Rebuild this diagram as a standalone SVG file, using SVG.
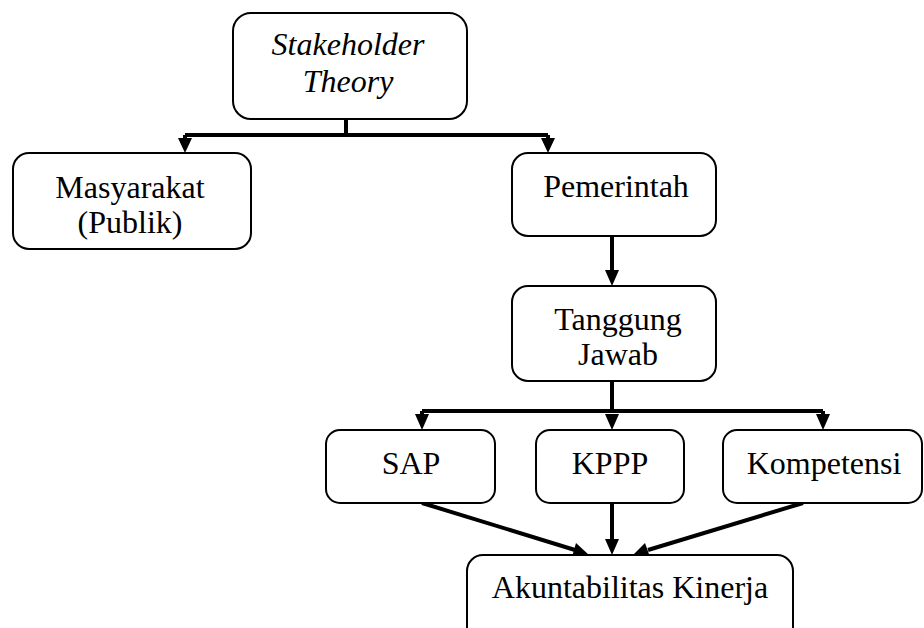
<svg xmlns="http://www.w3.org/2000/svg" width="924" height="628" viewBox="0 0 924 628">
<style>
.box{fill:#fff;stroke:#000;stroke-width:2}
.c{fill:none;stroke:#000;stroke-width:4}
.h{fill:#000;stroke:none}
.t{font-family:"Liberation Serif","Times New Roman",serif;font-size:32px;text-anchor:middle;fill:#000}
.i{font-style:italic}
</style>
<rect width="924" height="628" fill="#fff"/>
<g id="connectors">
<path class="c" d="M346,119 V135"/>
<path class="c" d="M185,135 H548"/>
<path class="c" d="M185,135 V140"/>
<path class="c" d="M548,135 V140"/>
<polygon class="h" points="178,138 192,138 185,153"/>
<polygon class="h" points="541,138 555,138 548,153"/>
<path class="c" d="M612,236 V272"/>
<polygon class="h" points="605,270 619,270 612,286"/>
<path class="c" d="M612,381 V411"/>
<path class="c" d="M422,411 H823"/>
<path class="c" d="M422,411 V416"/>
<path class="c" d="M823,411 V416"/>
<polygon class="h" points="415,414 429,414 422,430"/>
<polygon class="h" points="605,414 619,414 612,430"/>
<polygon class="h" points="816,414 830,414 823,430"/>
<path class="c" d="M422,503 L575,550"/>
<polygon class="h" points="589,555 572,557 576,543"/>
<path class="c" d="M612,503 V541"/>
<polygon class="h" points="605,539 619,539 612,555"/>
<path class="c" d="M803,503 L648,550"/>
<polygon class="h" points="633,555 645,543 650,557"/>
</g>
<g id="stakeholder">
<rect class="box" x="233" y="13" width="234" height="106" rx="18"/>
<text class="t i" x="348" y="55">Stakeholder</text>
<text class="t i" x="348" y="92">Theory</text>
</g>
<g id="masyarakat">
<rect class="box" x="13" y="153" width="238" height="96" rx="16"/>
<text class="t" x="130" y="198">Masyarakat</text>
<text class="t" x="130" y="233">(Publik)</text>
</g>
<g id="pemerintah">
<rect class="box" x="512" y="153" width="204" height="83" rx="16"/>
<text class="t" x="616" y="197">Pemerintah</text>
</g>
<g id="tanggung">
<rect class="box" x="512" y="286" width="204" height="95" rx="16"/>
<text class="t" x="618" y="330">Tanggung</text>
<text class="t" x="618" y="365">Jawab</text>
</g>
<g id="sap">
<rect class="box" x="326" y="430" width="169" height="73" rx="14"/>
<text class="t" x="411" y="474">SAP</text>
</g>
<g id="kppp">
<rect class="box" x="536" y="430" width="148" height="73" rx="14"/>
<text class="t" x="610" y="474">KPPP</text>
</g>
<g id="kompetensi">
<rect class="box" x="723" y="430" width="199" height="73" rx="14"/>
<text class="t" x="824" y="474">Kompetensi</text>
</g>
<g id="akuntabilitas">
<rect class="box" x="467" y="555" width="326" height="90" rx="16"/>
<text class="t" x="630" y="598">Akuntabilitas Kinerja</text>
</g>
</svg>
